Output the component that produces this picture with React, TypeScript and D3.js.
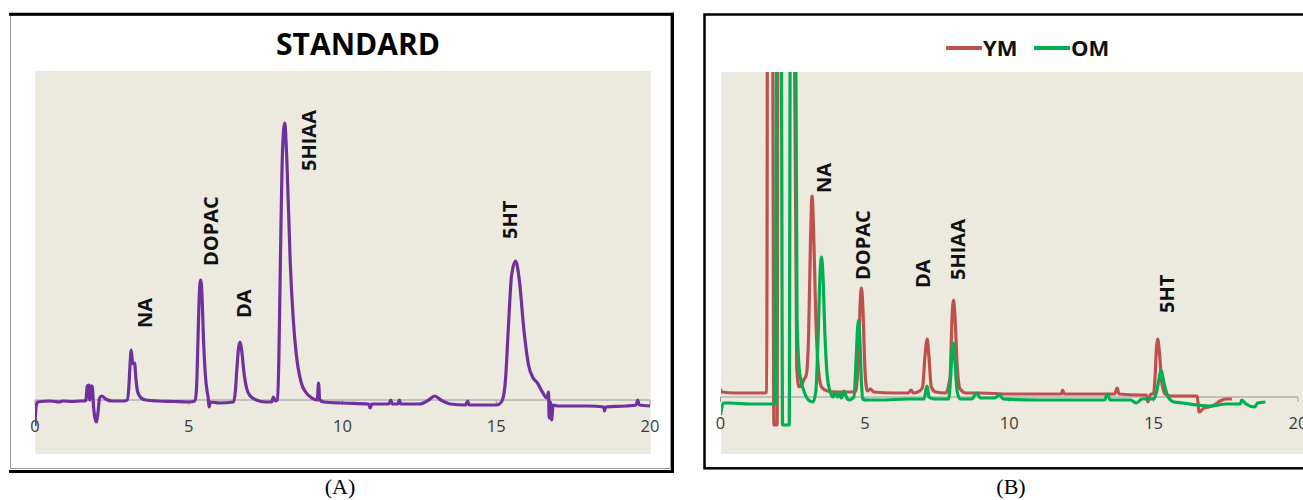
import * as d3 from "d3";

// retention time (min), detector signal (arbitrary units)
const standardTrace: [number, number][] = [
  [0, -26], [0.03, -8], [0.08, -2], [0.5, -1], [0.8, -2], [0.9, -1], [1.2, -1.5], [1.5, -1],
  [1.65, -1], [1.7, 14], [1.75, 15], [1.78, 0], [1.82, 14], [1.86, 14], [1.9, -5], [1.95, -18],
  [2.0, -22], [2.05, -12], [2.1, 2], [2.17, 4], [2.3, 1], [2.5, -1], [2.9, -1], [3.0, 0],
  [3.05, 12], [3.09, 35], [3.13, 50], [3.17, 38], [3.2, 36], [3.24, 37], [3.28, 22], [3.34, 8],
  [3.45, 2], [3.6, 0], [4.0, -1], [4.5, -1.5], [5.0, -2], [5.2, -1], [5.25, 10], [5.3, 60],
  [5.35, 110], [5.39, 120], [5.43, 105], [5.48, 60], [5.54, 25], [5.6, 8], [5.63, 3], [5.66, -7],
  [5.7, -2], [6.0, -3], [6.45, -2], [6.52, 10], [6.56, 29], [6.62, 52], [6.67, 58], [6.72, 50],
  [6.79, 29], [6.88, 12], [7.0, 4], [7.2, 0], [7.5, -2], [7.7, -2], [7.75, 3], [7.82, -1],
  [7.88, 0], [7.93, 40], [7.98, 138], [8.05, 250], [8.12, 277], [8.19, 240], [8.3, 138], [8.4, 80],
  [8.5, 45], [8.66, 17], [8.8, 8], [9.0, 2], [9.18, 0], [9.22, 17], [9.26, 0], [9.4, -2],
  [10, -3], [10.85, -4], [10.9, -8], [10.95, -4], [11.5, -4], [11.57, 0], [11.62, -4], [11.8, -4],
  [11.85, 0], [11.9, -4], [12.5, -4], [12.8, 0], [13.0, 4], [13.2, 0], [13.5, -4], [14.0, -5],
  [14.07, -1], [14.12, -5], [15.0, -5], [15.1, -4], [15.2, 0], [15.3, 20], [15.39, 70], [15.5, 125],
  [15.63, 139], [15.75, 120], [15.9, 70], [16.05, 35], [16.2, 22], [16.34, 17], [16.5, 8], [16.65, 2],
  [16.7, 8], [16.72, -18], [16.76, -2], [16.8, -20], [16.85, -5], [17, -6], [17.5, -6], [18, -6],
  [18.5, -7], [18.52, -11], [18.56, -7], [19.2, -6], [19.55, -5], [19.6, 0], [19.65, -5], [20, -6],
];

const ymTrace: [number, number][] = [
  [0, 8], [0.05, 5], [0.5, 4], [1.0, 4], [1.5, 4], [1.6, 5], [1.63, 400], [1.8, 400],
  [1.85, -28], [1.96, -28], [1.99, 400], [2.55, 400], [2.64, 30], [2.72, 10], [2.8, 12], [2.9, 18],
  [2.97, 22], [3.05, 60], [3.12, 160], [3.17, 201], [3.22, 170], [3.3, 80], [3.4, 25], [3.5, 10],
  [3.7, 6], [4.0, 5], [4.5, 5], [4.7, 6], [4.78, 40], [4.84, 95], [4.88, 109], [4.93, 90],
  [5.0, 30], [5.08, 6], [5.2, 8], [5.3, 5], [6.0, 4], [6.5, 4], [6.6, 7], [6.68, 4],
  [6.9, 6], [7.0, 10], [7.08, 40], [7.16, 58], [7.22, 40], [7.3, 10], [7.45, 5], [7.8, 4],
  [7.95, 20], [8.02, 80], [8.07, 97], [8.12, 80], [8.2, 30], [8.3, 8], [8.5, 4], [9, 4],
  [10, 3], [11, 3], [11.8, 3], [11.85, 7], [11.9, 3], [13, 3], [13.65, 3], [13.74, 9],
  [13.8, 3], [14.5, 2], [14.75, 2], [14.8, -5], [14.88, 2], [15.0, 4], [15.05, 20], [15.1, 50],
  [15.14, 58], [15.2, 45], [15.28, 15], [15.4, 3], [15.6, 1], [16, 1], [16.5, 1], [16.58, -15],
  [16.7, -12], [16.9, -10], [17.1, -8], [17.3, -4], [17.5, -2], [17.71, -2],
];

const omTrace: [number, number][] = [
  [0, -18], [0.1, -6], [0.3, -6], [1.0, -7], [1.9, -7], [1.95, 400], [2.1, 400], [2.15, -28],
  [2.38, -28], [2.42, 400], [2.6, 400], [2.65, 80], [2.72, 30], [2.8, 15], [2.9, 5], [3.05, -3],
  [3.2, -5], [3.3, 5], [3.38, 60], [3.45, 125], [3.5, 140], [3.55, 120], [3.62, 60], [3.7, 20],
  [3.8, 5], [3.9, 0], [3.97, 5], [4.05, 0], [4.12, 3], [4.18, -1], [4.28, 6], [4.36, 0],
  [4.45, -3], [4.62, 0], [4.7, 40], [4.75, 70], [4.78, 77], [4.83, 55], [4.88, 15], [4.93, -2],
  [5.0, -3], [5.5, -3], [6.5, -2], [7.05, -2], [7.12, 8], [7.16, 11], [7.22, 0], [7.4, -2],
  [7.9, -2], [7.97, 20], [8.03, 50], [8.07, 54], [8.12, 35], [8.2, 5], [8.3, -2], [8.7, -2],
  [8.87, 4], [9.0, -1], [9.5, -1], [9.65, 2], [9.8, -2], [11, -3], [12, -3], [13.3, -3],
  [13.4, 3], [13.5, -3], [14.2, -3], [14.4, -6], [14.6, -2], [15.0, -2], [15.1, 5], [15.2, 20],
  [15.26, 27], [15.35, 15], [15.5, 0], [15.7, -5], [16.0, -6], [16.5, -8], [17.0, -9], [17.5, -7],
  [18.0, -7], [18.05, -3], [18.2, -7], [18.5, -10], [18.6, -6], [18.87, -5],
];

// peak labels: name, time, signal level where the label starts
const standardLabels: [string, number, number][] = [
  ["NA", 3.79, 72], ["DOPAC", 5.95, 134], ["DA", 7.01, 82], ["5HIAA", 9.14, 229], ["5HT", 15.66, 161],
];
const sampleLabels: [string, number, number][] = [
  ["NA", 3.84, 204], ["DOPAC", 5.19, 117], ["DA", 7.27, 109], ["5HIAA", 8.47, 117], ["5HT", 15.71, 84],
];

const xTicks = [0, 5, 10, 15, 20];
const seriesNames = ["YM", "OM"];

const BEIGE = "#ECE9DF";
const PURPLE = "#7030A0";
const RED = "#C0504D";
const GREEN = "#00B050";
const FONT = "'Open Sans', sans-serif";

function Panel({ id, x, y, plot, traces, labels }: any) {
  const line = d3.line<[number, number]>()
    .x(d => x(d[0]))
    .y(d => y(d[1]))
    .curve(d3.curveMonotoneX);
  const axisY = y(0);
  return (
    <g>
      <rect x={plot.left} y={plot.top} width={plot.right - plot.left} height={plot.bottom - plot.top} fill={BEIGE} />
      <clipPath id={id}>
        <rect x={plot.left} y={plot.top} width={plot.right - plot.left} height={plot.bottom - plot.top} />
      </clipPath>
      <line x1={x(0)} x2={x(20)} y1={axisY} y2={axisY} stroke="#9a9a9a" strokeWidth={1} />
      {xTicks.map(t => (
        <g key={t}>
          <line x1={x(t)} x2={x(t)} y1={axisY} y2={axisY + 5} stroke="#9a9a9a" strokeWidth={1} />
          <text x={x(t)} y={axisY + 32} textAnchor="middle" fontFamily={FONT} fontSize={16.5} fill="#3a3a3a">{t}</text>
        </g>
      ))}
      <g clipPath={`url(#${id})`}>
        {traces.map((tr: any, i: number) => (
          <path key={i} d={line(tr.data) ?? ""} fill="none" stroke={tr.color} strokeWidth={3.2} strokeLinejoin="round" />
        ))}
      </g>
      {labels.map(([name, t, v]: [string, number, number]) => (
        <text key={name} transform={`translate(${x(t)},${y(v)}) rotate(-90)`} fontFamily={FONT}
          fontWeight="bold" fontSize={20} fill="#111">{name}</text>
      ))}
    </g>
  );
}

export default function App() {
  const xA = d3.scaleLinear().domain([0, 20]).range([35, 650]);
  const yA = d3.scaleLinear().domain([-54, 329]).range([454, 71]);
  const xB = d3.scaleLinear().domain([0, 20]).range([720.5, 1298]);
  const yB = d3.scaleLinear().domain([-57, 325]).range([454, 72]);

  return (
    <svg width={1303} height={500} style={{ position: "absolute", left: 0, top: 0, background: "#fff" }}>
      {/* panel A frame */}
      <rect x={10.5} y={15.5} width={660} height={453} fill="#fff" stroke="#999" strokeWidth={1} />
      <line x1={9} x2={674} y1={14.2} y2={14.2} stroke="#000" strokeWidth={3} />
      <line x1={672.5} x2={672.5} y1={12.7} y2={473} stroke="#000" strokeWidth={3} />
      <line x1={9} x2={674} y1={471.5} y2={471.5} stroke="#000" strokeWidth={3} />
      <Panel id="clipA" x={xA} y={yA} plot={{ left: 35, right: 650.7, top: 71, bottom: 454 }}
        traces={[{ data: standardTrace, color: PURPLE }]} labels={standardLabels} />
      <text x={358} y={55} textAnchor="middle" fontFamily={FONT} fontWeight="bold" fontSize={30} fill="#000">STANDARD</text>
      <text x={340} y={494} textAnchor="middle" fontFamily="'Liberation Serif', serif" fontSize={22} fill="#000">(A)</text>

      {/* panel B frame */}
      <rect x={704.5} y={14.5} width={620} height={453.8} fill="#fff" stroke="#000" strokeWidth={2.5} />
      <Panel id="clipB" x={xB} y={yB} plot={{ left: 721, right: 1303, top: 72, bottom: 454 }}
        traces={[{ data: ymTrace, color: RED }, { data: omTrace, color: GREEN }]} labels={sampleLabels} />
      {seriesNames.map((name, i) => (
        <g key={name} transform={`translate(${946 + i * 88},48)`}>
          <line x1={0} x2={36} y1={0} y2={0} stroke={i === 0 ? RED : GREEN} strokeWidth={4} />
          <text x={37} y={8} fontFamily={FONT} fontWeight="bold" fontSize={22} fill="#111">{name}</text>
        </g>
      ))}
      <text x={1011} y={494} textAnchor="middle" fontFamily="'Liberation Serif', serif" fontSize={22} fill="#000">(B)</text>
    </svg>
  );
}
